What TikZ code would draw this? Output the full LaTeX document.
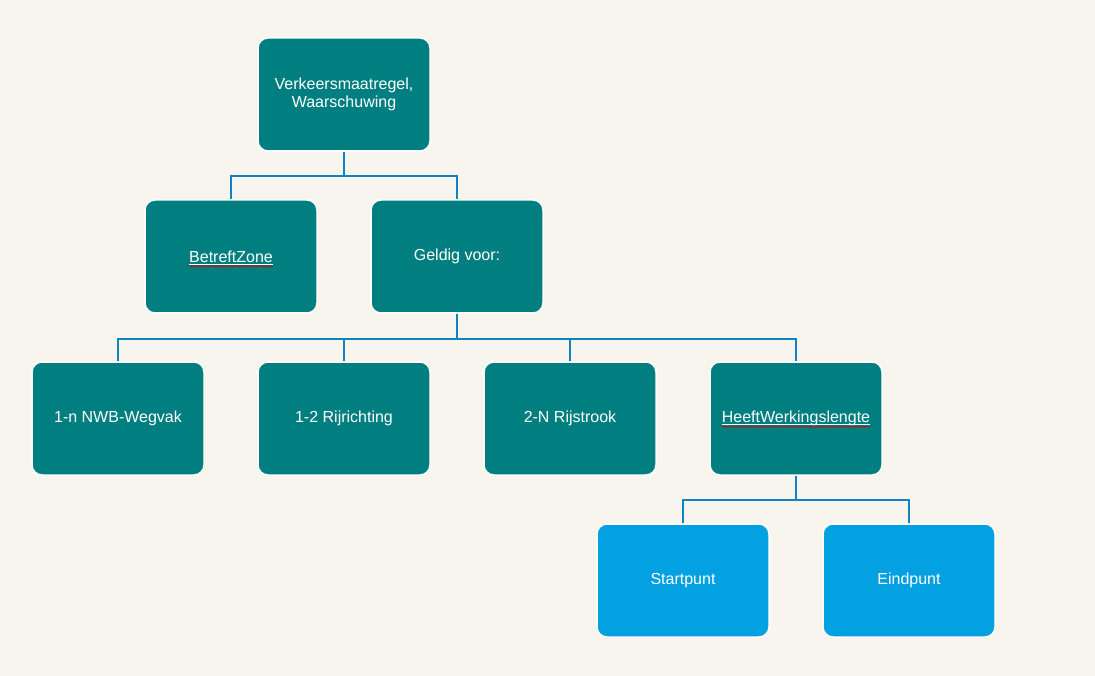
\documentclass[tikz,border=0pt]{standalone}
\usepackage{fontspec}
\setmainfont{Liberation Sans}
\usetikzlibrary{decorations.pathmorphing}
\definecolor{bgcol}{HTML}{F8F5EF}
\definecolor{tealbox}{HTML}{007E80}
\definecolor{bluebox}{HTML}{03A0E2}
\definecolor{linkcol}{HTML}{0E84C0}
\tikzset{
  box/.style={draw=white, line width=1.5pt, rounded corners=10pt, fill=tealbox,
    minimum width=172pt, minimum height=113pt, inner sep=0pt, text=white,
    align=center, font=\fontsize{16}{18}\selectfont},
  leafbox/.style={box, fill=bluebox},
  label text/.style={inner sep=0pt, text=white, font=\fontsize{16}{18}\selectfont},
  link/.style={draw=linkcol, line width=2pt},
  wavy/.style={draw=red!80!black, line width=0.6pt, decorate,
    decoration={snake, amplitude=0.8pt, segment length=3pt}}
}
\begin{document}
\begin{tikzpicture}[x=1pt,y=-1pt]
  \fill[bgcol] (0,0) rectangle (1095,676);
  \useasboundingbox (0,0) rectangle (1095,676);

  % tree levels
  \node[box] (root) at (344,94.5) {Verkeersmaatregel,\\Waarschuwing};
  \node[box] (zone) at (231,256.5) {};
  \node[box] (geldig) at (457,256.5) {Geldig voor:};
  \node[box] (wegvak) at (118,418.5) {1-n NWB-Wegvak};
  \node[box] (richting) at (344,418.5) {1-2 Rijrichting};
  \node[box] (strook) at (570,418.5) {2-N Rijstrook};
  \node[box] (lengte) at (796,418.5) {};
  \node[leafbox] (start) at (683,580.5) {Startpunt};
  \node[leafbox] (eind) at (909,580.5) {Eindpunt};

  % underlined labels with spelling marks
  \node[label text] (zonet) at (zone.center) {BetreftZone};
  \node[label text] (lengtet) at (lengte.center) {HeeftWerkingslengte};
  \foreach \t in {zonet,lengtet}{
    \draw[white, line width=0.8pt] ([yshift=-2pt]\t.base west) -- ([yshift=-2pt]\t.base east);
    \draw[wavy] ([yshift=-4pt]\t.base west) -- ([yshift=-4pt]\t.base east);
  }

  % connectors
  \draw[link] (root.south) -- ++(0,24) -| (zone.north);
  \draw[link] (root.south) -- ++(0,24) -| (geldig.north);
  \draw[link] (geldig.south) -- ++(0,25) -| (wegvak.north);
  \draw[link] (geldig.south) -- ++(0,25) -| (richting.north);
  \draw[link] (geldig.south) -- ++(0,25) -| (strook.north);
  \draw[link] (geldig.south) -- ++(0,25) -| (lengte.north);
  \draw[link] (lengte.south) -- ++(0,24) -| (start.north);
  \draw[link] (lengte.south) -- ++(0,24) -| (eind.north);
\end{tikzpicture}
\end{document}
